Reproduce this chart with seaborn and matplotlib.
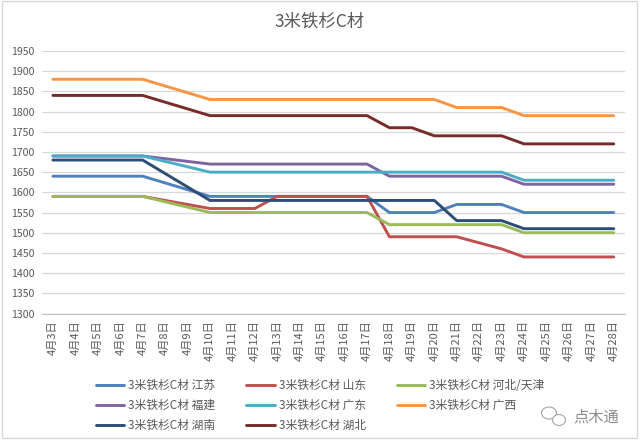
import numpy as np
import pandas as pd
import matplotlib
matplotlib.use("Agg")
import matplotlib.pyplot as plt
import seaborn as sns
from matplotlib.patches import Rectangle, Ellipse

sns.set_theme(style="white")
plt.rcParams['font.family'] = ['Noto Sans CJK SC', 'DejaVu Sans']

title = "3米铁杉C材"
days = [f"4月{d}日" for d in range(3, 29)]
nan = np.nan

series_names = ["3米铁杉C材 江苏", "3米铁杉C材 山东", "3米铁杉C材 河北/天津",
                "3米铁杉C材 福建", "3米铁杉C材 广东", "3米铁杉C材 广西",
                "3米铁杉C材 湖南", "3米铁杉C材 湖北"]

jiangsu = [1640]*5 + [nan, nan] + [1590]*8 + [1550]*3 + [1570]*3 + [1550]*5
shandong = [1590]*5 + [nan, nan] + [1560]*3 + [1590]*5 + [1490]*4 + [1475, 1460] + [1440]*5
hebei = [1590]*5 + [nan, nan] + [1550]*8 + [1520]*6 + [1500]*5
fujian = [1690]*5 + [nan, nan] + [1670]*8 + [1640]*6 + [1620]*5
guangdong = [1690]*5 + [nan, nan] + [1650]*8 + [1650]*6 + [1630]*5
guangxi = [1880]*5 + [nan, nan] + [1830]*8 + [1830]*3 + [1810]*3 + [1790]*5
hunan = [1680]*5 + [nan, nan] + [1580]*8 + [1580]*3 + [1530]*3 + [1510]*5
hubei = [1840]*5 + [nan, nan] + [1790]*8 + [1760, 1760, 1740] + [1740]*3 + [1720]*5

values = [jiangsu, shandong, hebei, fujian, guangdong, guangxi, hunan, hubei]
colors = ["#4F81BD", "#C0504D", "#9BBB59", "#8064A2", "#4BACC6", "#F79646", "#2C4D75", "#772C2A"]

rows = []
for name, vals in zip(series_names, values):
    for i, v in enumerate(vals):
        rows.append({"idx": i, "day": days[i], "series": name, "price": v})
df = pd.DataFrame(rows).dropna()

fig = plt.figure(figsize=(6.4, 4.43), dpi=100)
ax = fig.add_axes([41.7/640, 1-313.5/443, (625-41.7)/640, (313.5-51)/443])

sns.lineplot(data=df, x="idx", y="price", hue="series", hue_order=series_names,
             palette=dict(zip(series_names, colors)), linewidth=2.1, ax=ax,
             legend=False, estimator=None, sort=True)

ax.set_xlim(-0.5, len(days)-0.5)
ax.set_ylim(1300, 1950)
ax.set_yticks(np.arange(1300, 1951, 50))
ax.set_xticks(range(len(days)))
ax.set_xticklabels(days, rotation=90, fontsize=8, color="#595959")
ax.set_xticks(np.arange(-0.5, len(days), 1), minor=True)
ax.tick_params(axis="x", which="major", length=0, pad=5)
ax.tick_params(axis="x", which="minor", length=4, color="#BFBFBF", width=0.8, direction="out")
ax.tick_params(axis="y", length=0, labelsize=7.6, labelcolor="#595959", pad=5)
ax.set_xlabel("")
ax.set_ylabel("")
ax.grid(axis="y", color="#D9D9D9", linewidth=0.9)
ax.set_axisbelow(True)
for s in ["top", "right", "left"]:
    ax.spines[s].set_visible(False)
ax.spines["bottom"].set_color("#BFBFBF")
ax.spines["bottom"].set_linewidth(0.8)

fig.text(0.5, 1-21.5/443, title, ha="center", va="center", fontsize=12.5, color="#595959")

handles = [plt.Line2D([], [], color=c, linewidth=2.1) for c in colors]
order = [0, 3, 6, 1, 4, 7, 2, 5]
fig.legend([handles[i] for i in order], [series_names[i] for i in order],
           loc="upper left", bbox_to_anchor=(96/640, 1-379/443), ncol=3, frameon=False,
           fontsize=8.5, labelcolor="#595959", handlelength=2.4, handletextpad=0.35,
           columnspacing=2.6, labelspacing=0.58, borderpad=0, borderaxespad=0)

# watermark
fig.text(573/640, 1-417/443, "点木通", ha="left", va="center", fontsize=11, color="#8C8C8C")
fig.patches.append(Ellipse((549/640, 1-413/443), 15/640, 12/443, transform=fig.transFigure,
                           fill=False, edgecolor="#A6A6A6", linewidth=0.8))
fig.patches.append(Ellipse((559/640, 1-420/443), 13/640, 11/443, transform=fig.transFigure,
                           fill=True, facecolor="white", edgecolor="#A6A6A6", linewidth=0.8))

fig.patches.append(Rectangle((2/640, 1-438/443), 635/640, 437/443, transform=fig.transFigure,
                             fill=False, edgecolor="#D9D9D9", linewidth=1.0))

fig.savefig("out.png", dpi=100)
